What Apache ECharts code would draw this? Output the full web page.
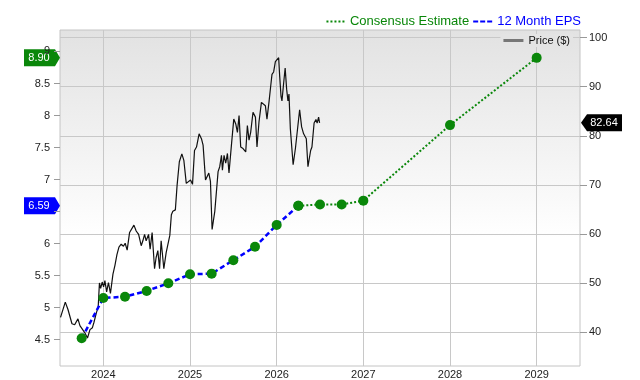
<!DOCTYPE html>
<html>
<head>
<meta charset="utf-8">
<script src="https://cdn.jsdelivr.net/npm/echarts@6/dist/echarts.min.js"></script>
<style>
  html, body { margin: 0; padding: 0; background: #fff; }
  #chart { width: 640px; height: 380px; }
</style>
</head>
<body>
<div id="chart"></div>
<script>
// ticks
var xTicks = [2024, 2025, 2026, 2027, 2028, 2029];
var epsTicks = [4.5, 5, 5.5, 6, 6.5, 7, 7.5, 8, 8.5, 9];
var epsLabels = [4.5, 5, 5.5, 6, 7, 7.5, 8, 8.5, 9]; // 6.5 sits under the EPS tag
var priceTicks = [40, 50, 60, 70, 80, 90, 100];

// price history (decimal year, $)
var priceDates = [2023.506, 2023.561, 2023.592, 2023.638, 2023.669, 2023.688, 2023.707, 2023.730, 2023.753, 2023.785,
  2023.817, 2023.846, 2023.874, 2023.892, 2023.918, 2023.941, 2023.955, 2023.969, 2023.987, 2024.003,
  2024.018, 2024.038, 2024.059, 2024.082, 2024.111, 2024.134, 2024.157, 2024.180, 2024.206, 2024.232,
  2024.252, 2024.275, 2024.303, 2024.321, 2024.353, 2024.379, 2024.407, 2024.437, 2024.456, 2024.476,
  2024.494, 2024.522, 2024.540, 2024.563, 2024.591, 2024.609, 2024.629, 2024.649, 2024.667, 2024.698,
  2024.725, 2024.744, 2024.767, 2024.785, 2024.802, 2024.831, 2024.851, 2024.877, 2024.906, 2024.929,
  2024.957, 2024.980, 2025.006, 2025.029, 2025.052, 2025.075, 2025.105, 2025.132, 2025.151, 2025.179,
  2025.197, 2025.217, 2025.236, 2025.255, 2025.286, 2025.324, 2025.343, 2025.363, 2025.374, 2025.393,
  2025.412, 2025.432, 2025.450, 2025.478, 2025.505, 2025.528, 2025.547, 2025.566, 2025.585, 2025.612,
  2025.623, 2025.643, 2025.662, 2025.681, 2025.700, 2025.727, 2025.755, 2025.773, 2025.796, 2025.824,
  2025.842, 2025.870, 2025.888, 2025.911, 2025.931, 2025.946, 2025.965, 2025.985, 2026.003, 2026.023,
  2026.035, 2026.050, 2026.061, 2026.081, 2026.098, 2026.115, 2026.130, 2026.142, 2026.158, 2026.190,
  2026.217, 2026.239, 2026.265, 2026.288, 2026.311, 2026.331, 2026.342, 2026.361, 2026.392, 2026.407,
  2026.432, 2026.453, 2026.467, 2026.484, 2026.495];
var priceValues = [43.0, 46.1, 44.6, 41.7, 41.5, 41.1, 42.7, 41.3, 40.9, 39.9,
  38.8, 40.5, 40.9, 42.0, 43.8, 45.2, 50.0, 48.9, 50.2, 49.2,
  50.5, 48.2, 50.1, 47.9, 51.8, 53.6, 55.8, 57.3, 57.9, 57.5,
  58.1, 56.7, 60.3, 59.9, 61.8, 60.6, 59.9, 57.6, 58.6, 59.9,
  58.6, 59.9, 56.9, 60.3, 52.9, 55.2, 56.6, 52.9, 58.6, 52.9,
  56.2, 56.6, 59.7, 63.9, 64.6, 64.9, 69.9, 74.7, 76.3, 75.0,
  70.3, 70.7, 71.0, 70.1, 77.0, 77.7, 80.4, 79.4, 78.1, 71.0,
  71.0, 72.4, 70.7, 60.9, 64.6, 72.7, 73.7, 76.0, 73.0, 76.0,
  74.4, 76.4, 72.4, 78.1, 83.4, 82.4, 80.7, 84.1, 77.7, 77.4,
  77.7, 76.7, 82.1, 79.1, 80.7, 84.8, 83.8, 77.7, 82.8, 86.8,
  87.1, 86.1, 83.4, 86.8, 90.1, 92.5, 93.0, 95.1, 95.4, 95.9,
  92.1, 88.1, 87.1, 90.8, 93.8, 89.5, 87.1, 88.5, 81.4, 74.1,
  77.5, 77.6, 85.3, 81.8, 80.4, 80.7, 79.4, 73.7, 77.0, 77.7,
  82.6, 83.3, 82.6, 83.8, 82.64];

// 12 month EPS (reported)
var epsDates = [2023.75, 2024.0, 2024.25, 2024.5, 2024.75, 2025.0, 2025.25, 2025.5, 2025.75, 2026.0, 2026.25];
var epsValues = [4.52, 5.15, 5.17, 5.26, 5.38, 5.52, 5.53, 5.74, 5.95, 6.29, 6.59];

// consensus estimate
var estDates = [2026.25, 2026.5, 2026.75, 2027.0, 2028.0, 2029.0];
var estValues = [6.59, 6.61, 6.61, 6.67, 7.85, 8.90];

var GREEN = '#0a870a';
var BLUE = '#0000ff';
var FONT = '"Liberation Sans", Arial, sans-serif';

function pairs(xs, ys) {
  return xs.map(function (x, i) { return [x, ys[i]]; });
}

var chart = echarts.init(document.getElementById('chart'));

chart.setOption({
  animation: false,
  textStyle: { fontFamily: FONT },
  grid: {
    left: 60, right: 60, top: 30, bottom: 10,
    show: true,
    borderColor: '#c4c4c4',
    borderWidth: 1,
    backgroundColor: new echarts.graphic.LinearGradient(0, 0, 0, 1, [
      { offset: 0, color: '#e2e2e2' },
      { offset: 0.62, color: '#ffffff' },
      { offset: 1, color: '#ffffff' }
    ])
  },
  legend: [
    {
      right: 59, top: 15, padding: 0, itemGap: 4,
      itemWidth: 19, itemHeight: 2,
      textStyle: { fontSize: 13, fontFamily: FONT },
      data: [
        {
          name: 'Consensus Estimate',
          icon: 'path://M0,0h2v2h-2zM4,0h2v2h-2zM8,0h2v2h-2zM12,0h2v2h-2zM16,0h2v2h-2z',
          itemStyle: { color: GREEN },
          textStyle: { color: GREEN }
        },
        {
          name: '12 Month EPS',
          icon: 'path://M0,0h5v2h-5zM7,0h5v2h-5zM14,0h5v2h-5z',
          itemStyle: { color: BLUE },
          textStyle: { color: BLUE }
        }
      ]
    },
    {
      right: 67, top: 34, padding: [1, 3],
      backgroundColor: '#e4e4e4',
      itemWidth: 20, itemHeight: 3,
      textStyle: { fontSize: 11, color: '#111', fontFamily: FONT },
      data: [
        { name: 'Price ($)', icon: 'path://M0,0h20v3h-20z', itemStyle: { color: '#777' } }
      ]
    }
  ],
  xAxis: {
    type: 'value',
    min: 2023.5,
    max: 2029.5,
    axisLine: { show: false },
    axisTick: { show: false, customValues: xTicks },
    axisLabel: {
      customValues: xTicks,
      color: '#222', fontSize: 11, margin: 3,
      formatter: function (v) { return String(Math.round(v)); }
    },
    splitLine: { show: true, lineStyle: { color: '#c8c8c8', width: 1 } }
  },
  yAxis: [
    {
      type: 'value',
      position: 'left',
      min: 4.088,
      max: 9.335,
      axisLine: { show: false },
      axisTick: { show: true, length: 6, customValues: epsTicks, lineStyle: { color: '#999' } },
      axisLabel: { customValues: epsLabels, color: '#222', fontSize: 11, margin: 10 },
      splitLine: { show: false }
    },
    {
      type: 'value',
      position: 'right',
      min: 33.09,
      max: 101.55,
      axisLine: { show: false },
      axisTick: { show: true, length: 7, customValues: priceTicks, lineStyle: { color: '#999' } },
      axisLabel: { customValues: priceTicks, color: '#222', fontSize: 11, margin: 9 },
      splitLine: { show: true, lineStyle: { color: '#c8c8c8', width: 1 } }
    }
  ],
  series: [
    {
      name: 'Price ($)',
      type: 'line',
      yAxisIndex: 1,
      data: pairs(priceDates, priceValues),
      symbol: 'none',
      color: '#777',
      lineStyle: { color: '#111', width: 1.2 },
      z: 2
    },
    {
      name: 'Consensus Estimate',
      type: 'line',
      yAxisIndex: 0,
      data: pairs(estDates, estValues),
      symbol: 'circle',
      symbolSize: 10,
      itemStyle: { color: GREEN },
      lineStyle: { color: GREEN, width: 2, type: [2, 2] },
      z: 3
    },
    {
      name: '12 Month EPS',
      type: 'line',
      yAxisIndex: 0,
      data: pairs(epsDates, epsValues),
      symbol: 'circle',
      symbolSize: 10,
      itemStyle: { color: GREEN },
      lineStyle: { color: BLUE, width: 2.5, type: [5, 3] },
      z: 4
    }
  ]
});

// value tags on the axes
var lastEps = epsValues[epsValues.length - 1];
var lastEst = estValues[estValues.length - 1];
var lastPrice = priceValues[priceValues.length - 1];

function leftTag(value, color) {
  var y = chart.convertToPixel({ yAxisIndex: 0 }, value);
  return {
    type: 'group',
    z: 100,
    children: [
      {
        type: 'polygon',
        shape: { points: [[24, y - 8.5], [55, y - 8.5], [60, y], [55, y + 8.5], [24, y + 8.5]] },
        style: { fill: color }
      },
      {
        type: 'text',
        x: 39, y: y,
        style: { text: value.toFixed(2), fill: '#fff', font: '11px ' + FONT, align: 'center', verticalAlign: 'middle' }
      }
    ]
  };
}

function rightTag(value) {
  var y = chart.convertToPixel({ yAxisIndex: 1 }, value);
  return {
    type: 'group',
    z: 100,
    children: [
      {
        type: 'polygon',
        shape: { points: [[581, y], [587, y - 8.5], [622, y - 8.5], [622, y + 8.5], [587, y + 8.5]] },
        style: { fill: '#000' }
      },
      {
        type: 'text',
        x: 604, y: y,
        style: { text: value.toFixed(2), fill: '#fff', font: '11px ' + FONT, align: 'center', verticalAlign: 'middle' }
      }
    ]
  };
}

chart.setOption({
  graphic: [leftTag(lastEst, GREEN), leftTag(lastEps, BLUE), rightTag(lastPrice)]
});
</script>
</body>
</html>
